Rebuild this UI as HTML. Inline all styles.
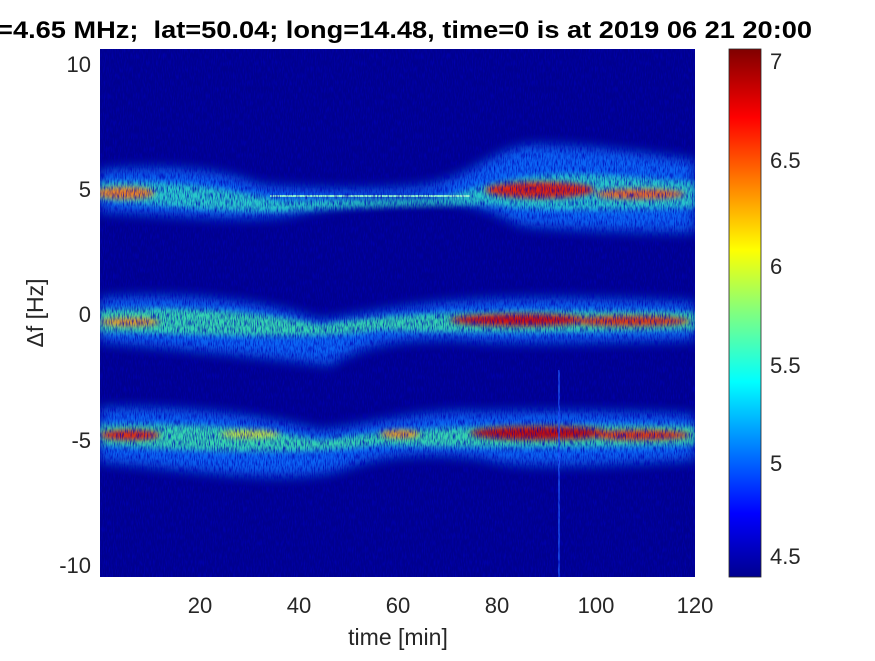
<!DOCTYPE html>
<html><head><style>
body{margin:0;background:#fff;width:875px;height:656px;overflow:hidden;font-family:"Liberation Sans",sans-serif}
</style></head><body>
<svg width="875" height="656" viewBox="0 0 875 656" xmlns="http://www.w3.org/2000/svg">
<defs>
<linearGradient id="jet" x1="0" y1="1" x2="0" y2="0">
<stop offset="0" stop-color="#00008f"/>
<stop offset="0.12" stop-color="#0000ff"/>
<stop offset="0.37" stop-color="#00ffff"/>
<stop offset="0.5" stop-color="#80ff80"/>
<stop offset="0.62" stop-color="#ffff00"/>
<stop offset="0.87" stop-color="#ff0000"/>
<stop offset="1" stop-color="#800000"/>
</linearGradient>
<filter id="b6"><feGaussianBlur stdDeviation="6"/></filter>
<filter id="b3"><feGaussianBlur stdDeviation="3"/></filter>
<filter id="noise" x="0" y="0" width="100%" height="100%">
<feTurbulence type="fractalNoise" baseFrequency="0.9 0.15" numOctaves="2" seed="3"/>
<feColorMatrix values="0 0 0 0 0  0 0 0 0 0  0 0 0 0 0.45  0 0 0 -2.6 1.5"/>
</filter>
<clipPath id="pc"><rect x="100" y="49" width="595" height="528"/></clipPath>
</defs>
<text x="-12" y="38" textLength="824" lengthAdjust="spacingAndGlyphs" font-size="24" font-weight="bold" fill="#000" xml:space="preserve">f=4.65 MHz;  lat=50.04; long=14.48, time=0 is at 2019 06 21 20:00</text>
<rect x="100" y="49" width="595" height="528" fill="#00008f"/>
<g clip-path="url(#pc)">
<g filter="url(#b6)" opacity="0.9">
<path d="M100,170 C160,165 220,168 260,185 C300,188 360,192 420,186 C470,180 490,150 530,145 C600,145 650,155 695,160 L695,232 C640,232 560,230 520,225 C480,205 460,200 420,200 C380,200 330,205 290,215 C240,222 180,215 100,212Z" fill="#1070ff"/>
<path d="M100,298 C180,292 260,300 320,320 C360,315 380,310 420,305 C500,295 600,298 695,302 L695,340 C600,342 520,345 460,340 C400,338 360,345 330,365 C290,360 200,350 100,342Z" fill="#1070ff"/>
<path d="M100,408 C200,405 280,420 320,430 C360,428 420,408 480,412 C560,410 640,412 695,415 L695,460 C600,465 520,470 480,458 C420,452 380,455 340,470 C280,485 200,470 100,462Z" fill="#1070ff"/>
</g>
<g filter="url(#b3)">
<path d="M100,182 C180,180 230,190 280,200 L440,198 C480,188 520,170 600,175 L695,182 L695,208 C620,210 540,212 490,205 C440,205 330,208 280,212 C220,212 160,206 100,200Z" fill="#30e0c0" opacity="0.8"/>
<path d="M100,310 C200,305 280,315 320,325 C380,315 460,308 695,312 L695,330 C600,332 460,334 380,330 C320,340 220,335 100,332Z" fill="#40f0a0" opacity="0.8"/>
<path d="M100,425 C200,422 270,430 320,440 C380,432 450,422 695,426 L695,445 C560,448 450,448 380,445 C300,455 200,452 100,445Z" fill="#40f0a0" opacity="0.8"/>
</g>
<g filter="url(#b3)">
<ellipse cx="125" cy="193" rx="30" ry="6" fill="#f08020"/>
<ellipse cx="540" cy="190" rx="55" ry="8" fill="#e02010"/>
<ellipse cx="640" cy="194" rx="45" ry="5" fill="#f06020"/>
<ellipse cx="520" cy="320" rx="70" ry="6" fill="#d01010"/>
<ellipse cx="630" cy="321" rx="60" ry="5" fill="#e03010"/>
<ellipse cx="130" cy="322" rx="30" ry="4" fill="#f09020"/>
<ellipse cx="130" cy="435" rx="30" ry="5" fill="#e02010"/>
<ellipse cx="540" cy="433" rx="70" ry="7" fill="#c00808"/>
<ellipse cx="640" cy="435" rx="50" ry="5" fill="#e03010"/>
<ellipse cx="400" cy="434" rx="20" ry="4" fill="#f09020"/>
<ellipse cx="250" cy="434" rx="30" ry="4" fill="#f0e020" opacity="0.8"/>
</g>
<line x1="270" y1="196" x2="470" y2="196" stroke="#90f0d0" stroke-width="2"/>
<line x1="559" y1="370" x2="559" y2="577" stroke="#2060ff" stroke-width="2" opacity="0.7"/>
<rect x="100" y="49" width="595" height="528" filter="url(#noise)" opacity="0.8"/>
</g>
<g font-size="22" fill="#262626">
<text x="91" y="72" text-anchor="end">10</text>
<text x="91" y="197" text-anchor="end">5</text>
<text x="91" y="322" text-anchor="end">0</text>
<text x="91" y="448" text-anchor="end">-5</text>
<text x="91" y="573" text-anchor="end">-10</text>
<text x="200" y="613" text-anchor="middle">20</text>
<text x="299" y="613" text-anchor="middle">40</text>
<text x="398" y="613" text-anchor="middle">60</text>
<text x="497" y="613" text-anchor="middle">80</text>
<text x="596" y="613" text-anchor="middle">100</text>
<text x="695" y="613" text-anchor="middle">120</text>
<text x="398" y="645" text-anchor="middle" font-size="23">time [min]</text>
<text transform="translate(43,313) rotate(-90)" text-anchor="middle" font-size="23">Δf [Hz]</text>
<text x="770" y="69">7</text>
<text x="770" y="168">6.5</text>
<text x="770" y="274">6</text>
<text x="770" y="373">5.5</text>
<text x="770" y="471">5</text>
<text x="770" y="564">4.5</text>
</g>
<rect x="729" y="49" width="32" height="528" fill="url(#jet)" stroke="#262626" stroke-width="0.8"/>
</svg>
</body></html>
